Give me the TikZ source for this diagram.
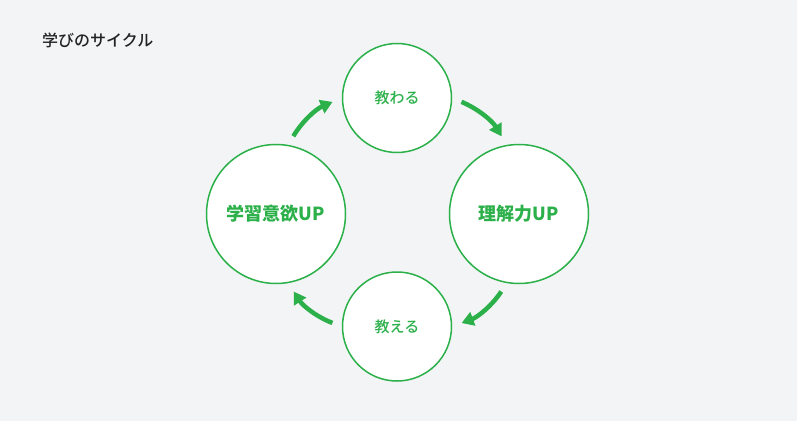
\documentclass[tikz,border=0pt]{standalone}
\usepackage{fontspec}
\setmainfont{Noto Sans CJK JP}
\newfontfamily\jpmedium{Noto Sans CJK JP Medium}
\usetikzlibrary{arrows.meta}

\definecolor{cyclegreen}{HTML}{2BB04A}
\definecolor{bggray}{HTML}{F3F4F6}
\definecolor{titlegray}{HTML}{222222}

\begin{document}
\begin{tikzpicture}[x=1pt,y=1pt,>=Latex,
    big/.style={circle,draw=cyclegreen,line width=1.5pt,fill=white,minimum size=139pt,inner sep=0pt,
      text=cyclegreen,font=\fontsize{18}{18}\selectfont\bfseries},
    small/.style={circle,draw=cyclegreen,line width=1.5pt,fill=white,minimum size=109pt,inner sep=0pt,
      text=cyclegreen,font=\fontsize{15}{15}\selectfont\jpmedium},
    cyc/.style={-{Triangle[length=12pt,width=14pt]},cyclegreen,line width=4.5pt,
      shorten <=10pt,shorten >=10pt,bend left=18}]
    \fill[bggray] (0,0) rectangle (797,421);
    \useasboundingbox (0,0) rectangle (797,421);

    \node[anchor=west,inner sep=0pt,text=titlegray,font=\fontsize{16}{16}\selectfont\jpmedium] (title) at (42,381) {学びのサイクル};

    \node[big] (want) at (276,207) {学習意欲UP};
    \node[small] (learn) at (397,323) {教わる};
    \node[big] (understand) at (519,207) {理解力UP};
    \node[small] (teach) at (397,94.5) {教える};

    \draw[cyc] (want.80) to (learn.180);
    \draw[cyc] (learn.0) to (understand.100);
    \draw[cyc] (understand.260) to (teach.0);
    \draw[cyc] (teach.180) to (want.280);
  \end{tikzpicture}
\end{document}
